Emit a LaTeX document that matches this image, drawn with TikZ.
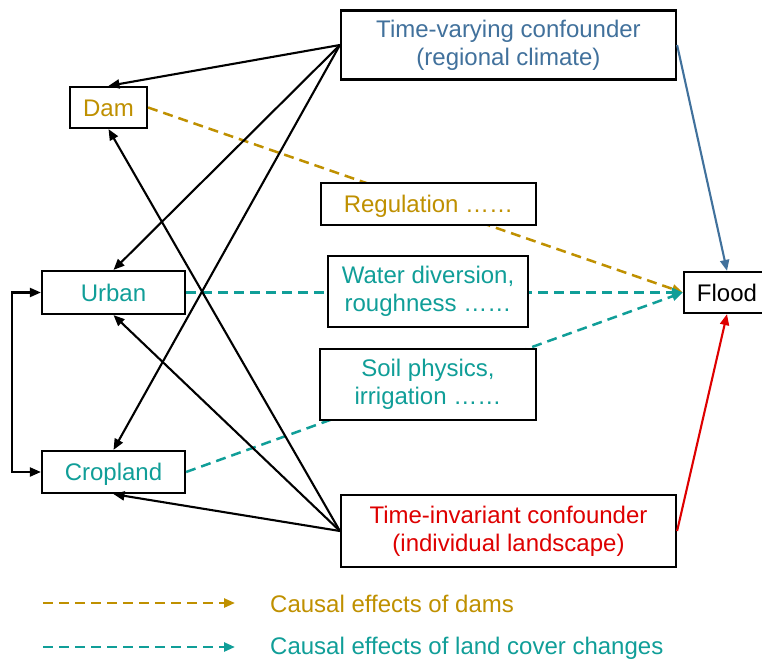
\documentclass[tikz,border=0pt]{standalone}
\usepackage{fontspec}
\setmainfont{Liberation Sans}
\usetikzlibrary{arrows.meta}
\definecolor{gold}{RGB}{191,144,0}
\definecolor{tealc}{RGB}{16,158,152}
\definecolor{bluec}{RGB}{65,113,156}
\definecolor{redc}{RGB}{222,0,0}
\begin{document}
\begin{tikzpicture}[x=1pt,y=-1pt,
  box/.style={draw=black,line width=2.2pt,fill=white,inner sep=0pt,align=center,
    font=\fontsize{24}{28}\selectfont},
  oneline/.style={text height=17.2pt,text depth=0pt},
  tip/.style={-{Triangle[length=11pt,width=9pt]}},
  arr/.style={tip,line width=2.1pt,black},
  dsh/.style={line width=2.5pt,dash pattern=on 10pt off 6pt}]
\clip (0,0) rectangle (762,661);
\node[box,minimum width=335pt,minimum height=69pt,text=bluec] (tv) at (508.5,45) {Time-varying confounder\\(regional climate)};
\node[box,oneline,minimum width=77pt,minimum height=41pt,text=gold] (dam) at (108.5,107.5) {Dam};
\node[box,oneline,minimum width=143pt,minimum height=43pt,text=tealc] (urban) at (113.5,292.5) {Urban};
\node[box,oneline,minimum width=143pt,minimum height=42pt,text=tealc] (crop) at (113.5,472) {Cropland};
\node[box,minimum width=335pt,minimum height=72pt,text=redc] (ti) at (508.5,531) {Time-invariant confounder\\(individual landscape)};
\node[box,oneline,minimum width=100pt,minimum height=41pt,text=black] (flood) at (734,292.5) {\hspace*{-14pt}Flood};
% dashed causal paths (behind mechanism boxes)
\draw[dsh,gold,tip] (dam.east) -- (flood.west);
\draw[dsh,tealc,tip] (urban.east) -- (flood.west);
\draw[dsh,tealc,tip] (crop.east) -- (flood.west);
\node[box,oneline,minimum width=215pt,minimum height=42pt,text=gold] (reg) at (428.5,204) {Regulation ……};
\node[box,minimum width=200pt,minimum height=71pt,text=tealc] (water) at (428,291.5) {Water diversion,\\roughness ……};
\node[box,minimum width=216pt,minimum height=71pt,text=tealc] (soil) at (428,384.5) {Soil physics,\\irrigation ……};
% confounder arrows
\draw[arr] (tv.west) -- (dam.north);
\draw[arr] (tv.west) -- (urban.north);
\draw[arr] (tv.west) -- (crop.north);
\draw[arr] (ti.west) -- (dam.south);
\draw[arr] (ti.west) -- (urban.south);
\draw[arr] (ti.west) -- (crop.south);
\draw[tip,line width=2.1pt,bluec] (tv.east) -- ([xshift=-7pt]flood.north);
\draw[tip,line width=2.1pt,redc] (ti.east) -- ([xshift=-7pt]flood.south);
\draw[arr,{Triangle[length=11pt,width=9pt]}-{Triangle[length=11pt,width=9pt]}] (urban.west) -- ++(-29,0) |- (crop.west);
% legend
\coordinate (l1s) at (43,603);
\coordinate (l1e) at (235,603);
\coordinate (l2s) at (43,647);
\coordinate (l2e) at (235,647);
\draw[dsh,gold,tip] (l1s) -- (l1e);
\draw[dsh,tealc,tip] (l2s) -- (l2e);
\node[anchor=west,inner sep=0pt,text=gold,font=\fontsize{24}{28}\selectfont] (leg1) at (270,604) {Causal effects of dams};
\node[anchor=west,inner sep=0pt,text=tealc,font=\fontsize{24}{28}\selectfont] (leg2) at (270,648) {Causal effects of land cover changes};
\end{tikzpicture}
\end{document}
